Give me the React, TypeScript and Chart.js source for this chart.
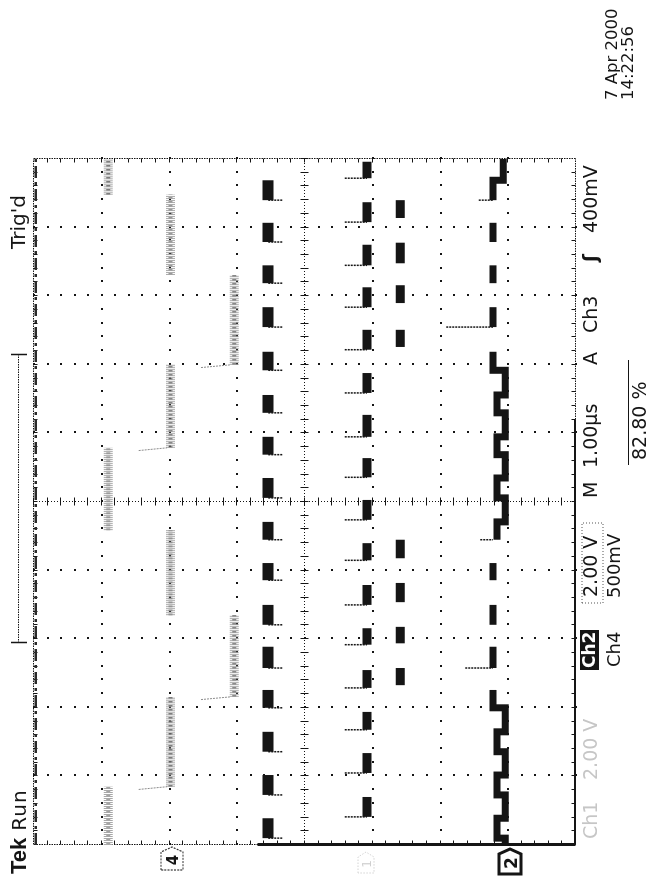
import React, { useEffect, useRef } from "react";
import { Chart, registerables } from "chart.js";

Chart.register(...registerables);

// ---------- screen geometry (unrotated oscilloscope screen) ----------
const SCREEN_W = 879;
const SCREEN_H = 654;
const TIME_DIVS = 10; // horizontal divisions (1.00 µs / div)
const VOLT_DIVS = 8; // vertical divisions

// ---------- data, in divisions ----------
// Ch4 (grey staircase): times where the level changes, and the levels between them
const ch4StepTimes = [0, 0.85, 2.16, 3.35, 4.59, 5.79, 7.0, 8.31, 9.48, 10];
const ch4Levels = [6.89, 5.97, 5.03, 5.97, 6.89, 5.97, 5.03, 5.97, 6.89];

// Ch3 pulse train (thick bars)
const ch3Starts = [0.10, 0.73, 1.36, 2.00, 2.58, 3.21, 3.86, 4.45, 5.06, 5.69, 6.30, 6.92, 7.55, 8.19, 8.79, 9.40];
const ch3Ends = [0.39, 1.02, 1.65, 2.26, 2.89, 3.50, 4.11, 4.71, 5.35, 5.95, 6.56, 7.19, 7.84, 8.45, 9.07, 9.69];
const ch3Level = 4.53;
const ch3EdgeFrom = 4.32;

// Ch1 pulse train
const ch1Starts = [0.41, 1.05, 1.68, 2.29, 2.92, 3.50, 4.15, 4.74, 5.36, 5.95, 6.59, 7.22, 7.84, 8.45, 9.08, 9.72];
const ch1Ends = [0.70, 1.34, 1.94, 2.55, 3.16, 3.79, 4.40, 5.03, 5.64, 6.27, 6.88, 7.51, 8.13, 8.75, 9.37, 9.96];
const ch1Level = 3.07;
const ch1EdgeFrom = 3.4;

// burst pulses (two groups of four)
const burstStarts = [2.33, 2.94, 3.54, 4.18, 7.26, 7.90, 8.48, 9.14];
const burstEnds = [2.58, 3.18, 3.82, 4.45, 7.51, 8.16, 8.78, 9.40];
const burstLevel = 2.58;

// Ch2: segments (start, end, level); touching segments are joined by a step
const ch2SegStart = [0, 0.10, 0.39, 0.73, 1.02, 1.36, 1.65, 2.00, 2.58, 3.21, 3.86, 4.45, 4.71, 5.06, 5.35, 5.69, 5.95, 6.30, 6.56, 6.92, 7.55, 8.19, 8.79, 9.40, 9.69];
const ch2SegEnd = [0.10, 0.39, 0.73, 1.02, 1.36, 1.65, 2.00, 2.26, 2.89, 3.50, 4.11, 4.71, 5.06, 5.35, 5.69, 5.95, 6.30, 6.56, 6.92, 7.19, 7.84, 8.45, 9.07, 9.69, 10];
const ch2SegLevel = [1.03, 1.15, 1.03, 1.15, 1.03, 1.15, 1.03, 1.21, 1.21, 1.21, 1.21, 1.15, 1.03, 1.15, 1.03, 1.15, 1.03, 1.15, 1.03, 1.21, 1.21, 1.21, 1.21, 1.21, 1.06];
const ch2EdgeTimes = [2.58, 4.45, 7.55, 9.40];
const ch2EdgeTops = [1.62, 1.40, 1.90, 1.42];

// trace clipped at the top of the screen
const clippedLevel = 7.96;
// pre-trigger trace lying on the screen edges
const edgeTraceTop = 4.69; // along t = 0
const baseTraceEnd = 6.2; // along v = 0

const INK = "#151515";

type P = { x: number; y: number | null };

function bars(starts: number[], ends: number[], level: number): P[] {
  const pts: P[] = [];
  starts.forEach((s, i) => {
    pts.push({ x: s, y: level }, { x: ends[i], y: level }, { x: ends[i], y: null });
  });
  return pts;
}

function edges(times: number[], from: number[] | number, to: number): P[] {
  const pts: P[] = [];
  times.forEach((t, i) => {
    const f = Array.isArray(from) ? from[i] : from;
    pts.push({ x: t, y: f }, { x: t, y: to }, { x: t, y: null });
  });
  return pts;
}

function ch2Points(): P[] {
  const pts: P[] = [];
  ch2SegStart.forEach((s, i) => {
    if (i > 0 && Math.abs(ch2SegEnd[i - 1] - s) > 1e-6) pts.push({ x: s, y: null });
    pts.push({ x: s, y: ch2SegLevel[i] }, { x: ch2SegEnd[i], y: ch2SegLevel[i] });
  });
  return pts;
}

function ch4Plateaus(): P[] {
  const pts: P[] = [];
  ch4Levels.forEach((lv, i) => {
    pts.push({ x: ch4StepTimes[i], y: lv }, { x: ch4StepTimes[i + 1], y: lv }, { x: ch4StepTimes[i + 1], y: null });
  });
  return pts;
}

function ch4Edges(): P[] {
  const pts: P[] = [];
  for (let i = 1; i < ch4Levels.length; i++) {
    if (ch4Levels[i] < ch4Levels[i - 1]) {
      const t = ch4StepTimes[i];
      pts.push({ x: t - 0.04, y: ch4Levels[i - 1] - 0.45 }, { x: t, y: ch4Levels[i] + 0.05 }, { x: t, y: null });
    }
  }
  return pts;
}

const line = (data: P[], color: string, width: number, dash: number[] = []) => ({
  data,
  showLine: true,
  borderColor: color,
  backgroundColor: color,
  borderWidth: width,
  borderDash: dash,
  borderCapStyle: "butt" as const,
  borderJoinStyle: "miter" as const,
  pointRadius: 0,
  spanGaps: false,
  tension: 0,
});

const graticule = {
  id: "graticule",
  beforeDatasetsDraw(chart: any) {
    const { ctx, chartArea: a } = chart;
    const sx = chart.scales.x;
    const sy = chart.scales.y;
    const X = (t: number) => Math.round(sx.getPixelForValue(t)) + 0.5;
    const Y = (v: number) => Math.round(sy.getPixelForValue(v)) + 0.5;
    ctx.save();
    ctx.fillStyle = INK;
    ctx.strokeStyle = INK;
    ctx.lineWidth = 1;
    const dot = (px: number, py: number) => ctx.fillRect(Math.round(px) - 1, Math.round(py) - 1, 2, 2);
    const seg = (x1: number, y1: number, x2: number, y2: number) => {
      ctx.beginPath();
      ctx.moveTo(x1, y1);
      ctx.lineTo(x2, y2);
      ctx.stroke();
    };
    const nT = TIME_DIVS * 5;
    const nV = VOLT_DIVS * 5;
    for (let i = 1; i < TIME_DIVS; i++) {
      if (i === TIME_DIVS / 2) continue;
      for (let k = 0; k <= nV; k++) dot(X(i), Y(k / 5));
    }
    for (let j = 1; j < VOLT_DIVS; j++) {
      if (j === VOLT_DIVS / 2) continue;
      for (let k = 0; k <= nT; k++) dot(X(k / 5), Y(j));
    }
    // centre cross
    ctx.setLineDash([1, 2]);
    seg(X(TIME_DIVS / 2), a.top, X(TIME_DIVS / 2), a.bottom);
    seg(a.left, Y(VOLT_DIVS / 2), a.right, Y(VOLT_DIVS / 2));
    ctx.setLineDash([]);
    for (let k = 0; k <= nT; k++) seg(X(k / 5), Y(VOLT_DIVS / 2) - 4, X(k / 5), Y(VOLT_DIVS / 2) + 4);
    for (let k = 0; k <= nV; k++) seg(X(TIME_DIVS / 2) - 4, Y(k / 5), X(TIME_DIVS / 2) + 4, Y(k / 5));
    // frame
    ctx.setLineDash([1.5, 1]);
    seg(X(0), Y(0), X(TIME_DIVS), Y(0));
    seg(X(0), Y(VOLT_DIVS), X(TIME_DIVS), Y(VOLT_DIVS));
    seg(X(0), Y(0), X(0), Y(VOLT_DIVS));
    seg(X(TIME_DIVS), Y(0), X(TIME_DIVS), Y(VOLT_DIVS));
    ctx.setLineDash([]);
    for (let k = 1; k < nT; k++) {
      seg(X(k / 5), Y(VOLT_DIVS), X(k / 5), Y(VOLT_DIVS) + 4);
      seg(X(k / 5), Y(0), X(k / 5), Y(0) - 4);
    }
    for (let k = 1; k < nV; k++) {
      seg(X(0), Y(k / 5), X(0) + 4, Y(k / 5));
      seg(X(TIME_DIVS), Y(k / 5), X(TIME_DIVS) - 4, Y(k / 5));
    }
    // pre-trigger trace lying on the edges
    ctx.lineWidth = 3;
    seg(X(0), Y(0), X(0), Y(edgeTraceTop));
    ctx.lineWidth = 2;
    seg(X(0), Y(0) - 0.5, X(baseTraceEnd), Y(0) - 0.5);
    ctx.restore();
  },
};

const T: React.CSSProperties = {
  position: "absolute",
  whiteSpace: "nowrap",
  lineHeight: 1,
  fontFamily: '"DejaVu Sans", sans-serif',
  color: INK,
  margin: 0,
};

export default function App() {
  const ref = useRef<HTMLCanvasElement>(null);

  useEffect(() => {
    document.documentElement.style.overflow = "hidden";
    const datasets: any[] = [
      // Ch4 staircase (noisy grey band)
      line(ch4Edges(), "#8c8c8c", 1, [2, 1]),
      line(ch4Plateaus(), "#a8a8a8", 9, [1, 1]),
      line(ch4Plateaus(), "#4a4a4a", 4, [1.5, 2.5]),
      // clipped trace at the top edge
      line([{ x: 0, y: clippedLevel }, { x: TIME_DIVS, y: clippedLevel }], "#2a2a2a", 2.5, [12, 4, 3, 4]),
      // Ch3
      line(edges(ch3Starts, ch3EdgeFrom, ch3Level), INK, 1.5, [2, 1]),
      line(bars(ch3Starts, ch3Ends, ch3Level), INK, 11),
      // Ch1
      line(edges(ch1Starts, ch1EdgeFrom, ch1Level), INK, 1.5, [2, 1]),
      line(bars(ch1Starts, ch1Ends, ch1Level), INK, 9),
      // bursts
      line(bars(burstStarts, burstEnds, burstLevel), INK, 9),
      // Ch2
      line(edges(ch2EdgeTimes, ch2EdgeTops, 1.21), INK, 1.5, [2, 1]),
      line(ch2Points(), INK, 7),
    ];
    const chart = new Chart(ref.current as HTMLCanvasElement, {
      type: "scatter",
      data: { datasets },
      options: {
        responsive: false,
        maintainAspectRatio: false,
        animation: false,
        events: [],
        layout: { padding: { left: 34, right: 159, top: 33, bottom: 79 } },
        scales: {
          x: { type: "linear", min: 0, max: TIME_DIVS, display: false },
          y: { type: "linear", min: 0, max: VOLT_DIVS, display: false },
        },
        plugins: { legend: { display: false }, tooltip: { enabled: false } },
      },
      plugins: [graticule],
    });
    return () => chart.destroy();
  }, []);

  return (
    <div
      style={{
        position: "absolute",
        left: 0,
        top: 0,
        width: SCREEN_W,
        height: SCREEN_H,
        transformOrigin: "0 0",
        transform: `translateY(${SCREEN_W}px) rotate(-90deg)`,
        background: "#fff",
        overflow: "hidden",
      }}
    >
      <canvas ref={ref} width={SCREEN_W} height={SCREEN_H} style={{ position: "absolute", left: 0, top: 0 }} />
      <svg width={SCREEN_W} height={SCREEN_H} style={{ position: "absolute", left: 0, top: 0 }}>
        {/* record view bracket */}
        <line x1={236} y1={18.5} x2={524} y2={18.5} stroke={INK} strokeWidth={1} strokeDasharray="1.5 1" />
        <line x1={236.5} y1={11} x2={236.5} y2={27} stroke={INK} strokeWidth={1.5} />
        <line x1={524.5} y1={11} x2={524.5} y2={27} stroke={INK} strokeWidth={1.5} />
        {/* channel ground markers */}
        <polygon points="9,161 27,161 32,172 27,183 9,183" fill="#fff" stroke="#333" strokeWidth={1.2} strokeDasharray="2 1.2" />
        <text x={19} y={178} fontFamily="DejaVu Sans" fontSize={15} fontWeight="bold" textAnchor="middle" fill={INK}>4</text>
        <polygon points="6,358 22,358 27,366 22,374 6,374" fill="#fff" stroke="#d4d4d4" strokeWidth={1} strokeDasharray="1.5 1.5" />
        <text x={15} y={371} fontFamily="DejaVu Sans" fontSize={12} textAnchor="middle" fill="#cfcfcf">1</text>
        <polygon points="5,499 25,499 30,510 25,521 5,521" fill="#fff" stroke={INK} strokeWidth={3} />
        <text x={16} y={517} fontFamily="DejaVu Sans" fontSize={17} fontWeight="bold" textAnchor="middle" fill={INK}>2</text>
        {/* box around Ch2 scale */}
        <rect x={276} y={582} width={80} height={21} fill="none" stroke="#555" strokeWidth={1} strokeDasharray="1 2" />
        {/* overline of the readout */}
        <line x1={414} y1={628.5} x2={519} y2={628.5} stroke={INK} strokeWidth={1.2} />
      </svg>

      <div style={{ ...T, left: 5, top: 8, fontSize: 20 }}>
        <b style={{ fontFamily: '"Liberation Sans", sans-serif', fontSize: 22 }}>Tek</b>
        <span style={{ marginLeft: 7, letterSpacing: 1 }}>Run</span>
      </div>
      <div style={{ ...T, left: 630, top: 8, fontSize: 20 }}>Trig'd</div>

      <div style={{ ...T, left: 40, top: 581, fontSize: 19, color: "#c6c6c6" }}>Ch1</div>
      <div style={{ ...T, left: 99, top: 581, fontSize: 19, color: "#c6c6c6" }}>2.00 V</div>
      <div style={{ ...T, left: 209, top: 580, fontSize: 17, fontWeight: "bold", color: "#fff", background: INK, padding: "1px 2px" }}>Ch2</div>
      <div style={{ ...T, left: 282, top: 581, fontSize: 19 }}>2.00 V</div>
      <div style={{ ...T, left: 381, top: 581, fontSize: 19 }}>M</div>
      <div style={{ ...T, left: 411, top: 581, fontSize: 19 }}>1.00µs</div>
      <div style={{ ...T, left: 514, top: 581, fontSize: 19 }}>A</div>
      <div style={{ ...T, left: 546, top: 581, fontSize: 19 }}>Ch3</div>
      <div style={{ ...T, left: 617, top: 581, fontSize: 19, fontWeight: "bold" }}>ʃ</div>
      <div style={{ ...T, left: 646, top: 581, fontSize: 19 }}>400mV</div>

      <div style={{ ...T, left: 212, top: 605, fontSize: 18 }}>Ch4</div>
      <div style={{ ...T, left: 281, top: 605, fontSize: 18 }}>500mV</div>

      <div style={{ ...T, left: 419, top: 630, fontSize: 19 }}>82.80 %</div>

      <div style={{ ...T, left: 779, top: 604, fontSize: 16.5 }}>7 Apr 2000</div>
      <div style={{ ...T, left: 779, top: 620, fontSize: 16.5 }}>14:22:56</div>
    </div>
  );
}
